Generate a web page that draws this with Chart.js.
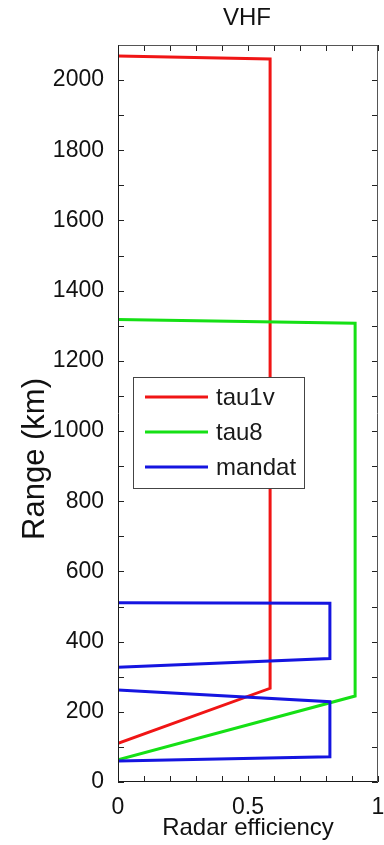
<!DOCTYPE html>
<html>
<head>
<meta charset="utf-8">
<script src="https://cdn.jsdelivr.net/npm/chart.js@4/dist/chart.umd.min.js"></script>
<style>
  html, body { margin: 0; padding: 0; background: #fff; }
  #wrap { width: 384px; height: 845px; position: relative; }
</style>
</head>
<body>
<div id="wrap"><canvas id="chart"></canvas></div>
<script>
// Radar efficiency versus range for the VHF experiments
const seriesNames = ['tau1v', 'tau8', 'mandat'];

const tau1vEfficiency = [0, 0.585, 0.585, 0];
const tau1vRange      = [110, 267, 2060, 2069];

const tau8Efficiency  = [0, 0.912, 0.912, 0];
const tau8Range       = [63, 245, 1307, 1318];

// null splits the two mandat blocks
const mandatEfficiency = [0, 0.815, 0.815, 0, null, 0, 0.815, 0.815, 0];
const mandatRange      = [60, 72, 229, 262, null, 327, 352, 509, 511];

const xTickValues = [0, 0.5, 1];
const yTickValues = [0, 200, 400, 600, 800, 1000, 1200, 1400, 1600, 1800, 2000];
const xMinorStep = 0.1;
const yMinorStep = 100;

const FONT = '"Liberation Sans", Arial, Helvetica, sans-serif';

function toPoints(xs, ys) {
  return xs.map((x, i) => ({ x: x, y: ys[i] }));
}

// Inward tick marks on all four sides plus the box frame
const frameTicks = {
  id: 'frameTicks',
  afterDatasetsDraw(chart) {
    const { ctx, chartArea: a, scales: { x, y } } = chart;
    const len = 6;
    ctx.save();
    ctx.strokeStyle = '#222';
    ctx.lineWidth = 1;
    ctx.beginPath();
    for (let v = 0; v <= 1 + 1e-9; v += xMinorStep) {
      const px = Math.round(x.getPixelForValue(v)) + 0.5;
      ctx.moveTo(px, a.bottom); ctx.lineTo(px, a.bottom - len);
      ctx.moveTo(px, a.top);    ctx.lineTo(px, a.top + len);
    }
    for (let v = 0; v <= y.max + 1e-9; v += yMinorStep) {
      const py = Math.round(y.getPixelForValue(v)) + 0.5;
      ctx.moveTo(a.left, py);  ctx.lineTo(a.left + len, py);
      ctx.moveTo(a.right, py); ctx.lineTo(a.right - len, py);
    }
    ctx.stroke();
    const l = Math.round(a.left) + 0.5, r = Math.round(a.right) - 0.5;
    const t = Math.round(a.top) + 0.5, b = Math.round(a.bottom) - 0.5;
    ctx.strokeStyle = '#555';
    ctx.beginPath();
    ctx.moveTo(l, t); ctx.lineTo(r, t); ctx.lineTo(r, b);
    ctx.stroke();
    ctx.strokeStyle = '#1a1a1a';
    ctx.beginPath();
    ctx.moveTo(l, t); ctx.lineTo(l, b); ctx.lineTo(r, b);
    ctx.stroke();
    ctx.restore();
  }
};

// Boxed legend inside the plot area
const boxLegend = {
  id: 'boxLegend',
  afterDraw(chart) {
    const { ctx } = chart;
    const box = { x: 133.5, y: 377.5, w: 171, h: 111 };
    ctx.save();
    ctx.fillStyle = '#fff';
    ctx.fillRect(box.x, box.y, box.w, box.h);
    ctx.strokeStyle = '#444';
    ctx.lineWidth = 1;
    ctx.strokeRect(box.x, box.y, box.w, box.h);
    ctx.font = '24px ' + FONT;
    ctx.textBaseline = 'middle';
    ctx.textAlign = 'left';
    chart.data.datasets.forEach((ds, i) => {
      const yy = 397 + i * 35;
      ctx.strokeStyle = ds.borderColor;
      ctx.lineWidth = 3;
      ctx.beginPath();
      ctx.moveTo(145, yy); ctx.lineTo(208, yy);
      ctx.stroke();
      ctx.fillStyle = '#1a1a1a';
      ctx.fillText(ds.label, 216, yy + 1);
    });
    ctx.restore();
  }
};

// Title over the axes and the vertical axis label
const axesText = {
  id: 'axesText',
  afterDraw(chart) {
    const { ctx, chartArea: a } = chart;
    ctx.save();
    ctx.fillStyle = '#111';
    ctx.textAlign = 'center';
    ctx.textBaseline = 'middle';
    ctx.font = '24px ' + FONT;
    ctx.fillText('VHF', (a.left + a.right) / 2 - 1, 18);
    ctx.translate(35, 459);
    ctx.rotate(-Math.PI / 2);
    ctx.font = '31px ' + FONT;
    ctx.fillText('Range (km)', 0, 0);
    ctx.restore();
  }
};

const colors = ['#f01515', '#15e015', '#1515e0'];

new Chart(document.getElementById('chart'), {
  type: 'scatter',
  data: {
    datasets: [
      { label: seriesNames[0], data: toPoints(tau1vEfficiency, tau1vRange), borderColor: colors[0], order: 3 },
      { label: seriesNames[1], data: toPoints(tau8Efficiency, tau8Range), borderColor: colors[1], order: 2 },
      { label: seriesNames[2], data: toPoints(mandatEfficiency, mandatRange), borderColor: colors[2], order: 1 }
    ].map(d => Object.assign(d, {
      showLine: true, spanGaps: false, pointRadius: 0, borderWidth: 3,
      tension: 0, fill: false, backgroundColor: d.borderColor
    }))
  },
  options: {
    responsive: true,
    maintainAspectRatio: false,
    animation: false,
    layout: { padding: { left: 0, right: 0, top: 45, bottom: 0 } },
    plugins: {
      legend: { display: false },
      tooltip: { enabled: false },
      title: { display: false }
    },
    scales: {
      x: {
        type: 'linear',
        min: 0, max: 1,
        grid: { display: false },
        border: { display: false },
        afterBuildTicks: s => { s.ticks = xTickValues.map(v => ({ value: v })); },
        afterFit: s => { s.height = 63; s.paddingRight = 6; s.paddingLeft = 0; },
        ticks: {
          color: '#111',
          font: { family: FONT, size: 23 },
          padding: 4,
          maxRotation: 0,
          callback: v => String(v)
        },
        title: {
          display: true,
          text: 'Radar efficiency',
          color: '#111',
          font: { family: FONT, size: 24 },
          padding: { top: 0, bottom: 2 }
        }
      },
      y: {
        type: 'linear',
        min: 0, max: 2100,
        grid: { display: false },
        border: { display: false },
        afterBuildTicks: s => { s.ticks = yTickValues.map(v => ({ value: v })); },
        afterFit: s => { s.width = 118; s.paddingTop = 0; s.paddingBottom = 0; },
        ticks: {
          color: '#111',
          font: { family: FONT, size: 23 },
          padding: 6,
          callback: v => String(v)
        }
      }
    }
  },
  plugins: [frameTicks, boxLegend, axesText]
});
</script>
</body>
</html>
